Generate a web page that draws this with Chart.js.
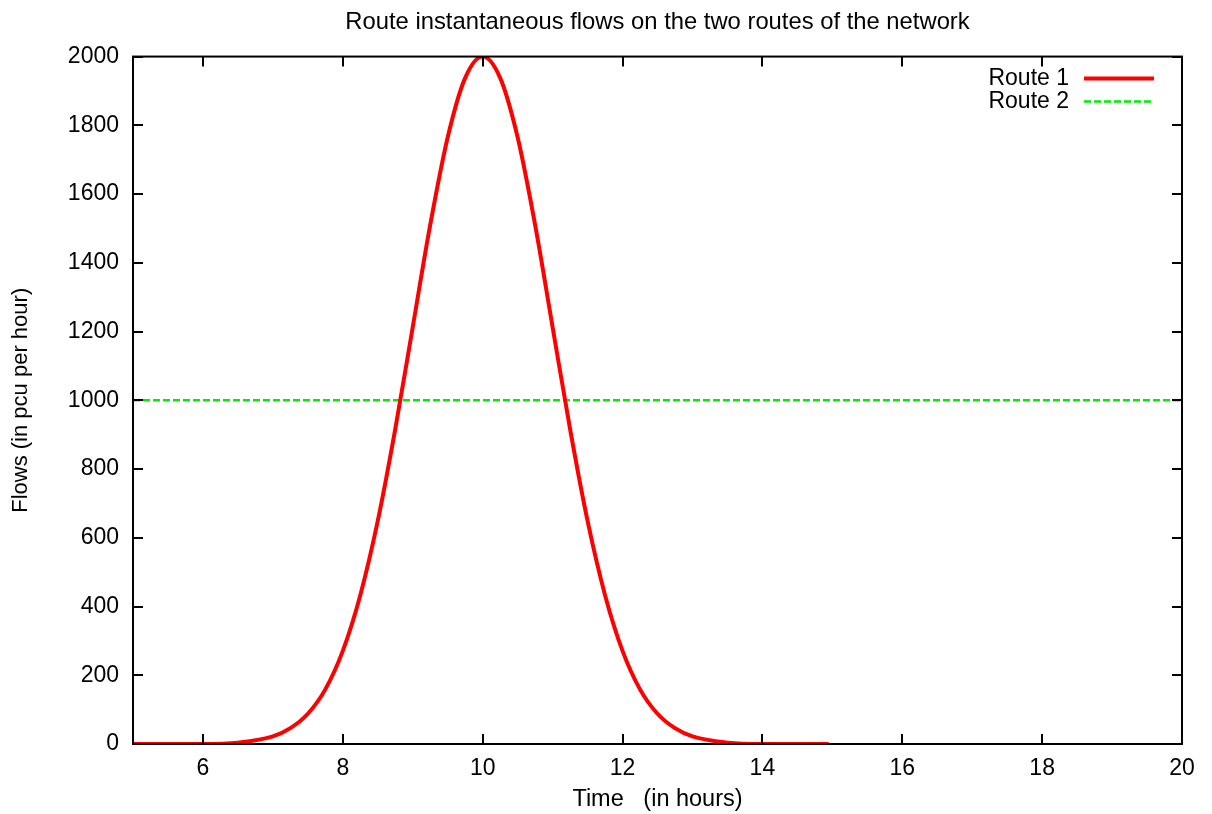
<!DOCTYPE html>
<html>
<head>
<meta charset="utf-8">
<script src="https://cdn.jsdelivr.net/npm/chart.js@4/dist/chart.umd.min.js"></script>
<style>
  body { margin: 0; background: #fff; }
  #wrap { width: 1212px; height: 814px; }
</style>
</head>
<body>
<div id="wrap"><canvas id="chart"></canvas></div>
<script>
// values
const route1Hours = [5, 5.5, 6, 6.5, 7, 7.25, 7.5, 7.75, 8, 8.25, 8.5, 8.75, 9, 9.25, 9.5, 9.75, 10,
    10.25, 10.5, 10.75, 11, 11.25, 11.5, 11.75, 12, 12.25, 12.5, 12.75, 13, 13.5, 14, 14.5, 14.95];
const route1Flows = [0, 0, 0, 4, 22, 46, 88, 159, 271, 433, 649, 916, 1213, 1510, 1765, 1938, 2000,
    1938, 1765, 1510, 1213, 916, 649, 433, 271, 159, 88, 46, 22, 4, 0, 0, 0];
const route2Hours = [5, 20];
const route2Flows = [1000, 1000];
const xTicks = [6, 8, 10, 12, 14, 16, 18, 20];
const yTicks = [0, 200, 400, 600, 800, 1000, 1200, 1400, 1600, 1800, 2000];

const FONT = "'Liberation Sans', Arial, sans-serif";

const toPoints = (xs, ys) => xs.map((x, i) => ({x: x, y: ys[i]}));

// gnuplot style box, inward ticks on all four sides, and key
const gnuplotFrame = {
    id: "gnuplotFrame",
    afterDraw(chart) {
        const ctx = chart.ctx;
        const area = chart.chartArea;
        const xs = chart.scales.x;
        const ys = chart.scales.y;
        ctx.save();
        ctx.strokeStyle = "#000";
        ctx.lineWidth = 2;
        ctx.beginPath();
        xTicks.forEach(v => {
            const px = Math.round(xs.getPixelForValue(v));
            ctx.moveTo(px, area.bottom);
            ctx.lineTo(px, area.bottom - 10);
            ctx.moveTo(px, area.top);
            ctx.lineTo(px, area.top + 10);
        });
        yTicks.forEach(v => {
            const py = Math.round(ys.getPixelForValue(v));
            ctx.moveTo(area.left, py);
            ctx.lineTo(area.left + 10, py);
            ctx.moveTo(area.right, py);
            ctx.lineTo(area.right - 10, py);
        });
        ctx.stroke();
        ctx.strokeRect(area.left, area.top, area.right - area.left, area.bottom - area.top);

        // key
        ctx.font = "23px " + FONT;
        ctx.textAlign = "right";
        ctx.textBaseline = "middle";
        chart.data.datasets.forEach((ds, i) => {
            const y = area.top + 22 + i * 23;
            ctx.fillStyle = "#000";
            ctx.fillText(ds.label, area.right - 113, y);
            ctx.strokeStyle = ds.borderColor;
            ctx.lineWidth = ds.borderWidth;
            ctx.setLineDash(ds.borderDash || []);
            ctx.beginPath();
            ctx.moveTo(area.right - 98, y);
            ctx.lineTo(area.right - 28, y);
            ctx.stroke();
        });
        ctx.restore();
    }
};

new Chart(document.getElementById("chart"), {
    type: "scatter",
    data: {
        datasets: [{
            label: "Route 1",
            data: toPoints(route1Hours, route1Flows),
            showLine: true,
            borderColor: "#ff0000",
            borderWidth: 4,
            pointRadius: 0,
            cubicInterpolationMode: "monotone",
            fill: false
        }, {
            label: "Route 2",
            data: toPoints(route2Hours, route2Flows),
            showLine: true,
            borderColor: "#00ee00",
            borderWidth: 2.5,
            borderDash: [7, 3],
            pointRadius: 0,
            fill: false
        }]
    },
    options: {
        responsive: true,
        maintainAspectRatio: false,
        animation: false,
        layout: {padding: {left: 0, right: 30, top: 0, bottom: 0}},
        plugins: {
            legend: {display: false},
            tooltip: {enabled: false},
            title: {
                display: true,
                fullSize: false,
                text: "Route instantaneous flows on the two routes of the network",
                color: "#000",
                font: {family: FONT, size: 23.8, weight: "normal"},
                padding: {top: 8, bottom: 20}
            }
        },
        scales: {
            x: {
                type: "linear",
                min: 5,
                max: 20,
                afterBuildTicks: scale => { scale.ticks = xTicks.map(v => ({value: v})); },
                afterFit: scale => { scale.height = 70; },
                grid: {display: false, drawTicks: false},
                border: {display: false},
                ticks: {color: "#000", padding: 11, font: {family: FONT, size: 23}},
                title: {
                    display: true,
                    text: "Time   (in hours)",
                    color: "#000",
                    font: {family: FONT, size: 23.5},
                    padding: {top: 4, bottom: 0}
                }
            },
            y: {
                min: 0,
                max: 2000,
                afterBuildTicks: scale => { scale.ticks = yTicks.map(v => ({value: v})); },
                afterFit: scale => { scale.width = 133; },
                grid: {display: false, drawTicks: false},
                border: {display: false},
                ticks: {
                    color: "#000",
                    padding: 14,
                    font: {family: FONT, size: 23},
                    callback: v => String(v)
                },
                title: {
                    display: true,
                    text: "Flows (in pcu per hour)",
                    color: "#000",
                    font: {family: FONT, size: 22},
                    padding: {top: 8, bottom: 0}
                }
            }
        }
    },
    plugins: [gnuplotFrame]
});
</script>
</body>
</html>
